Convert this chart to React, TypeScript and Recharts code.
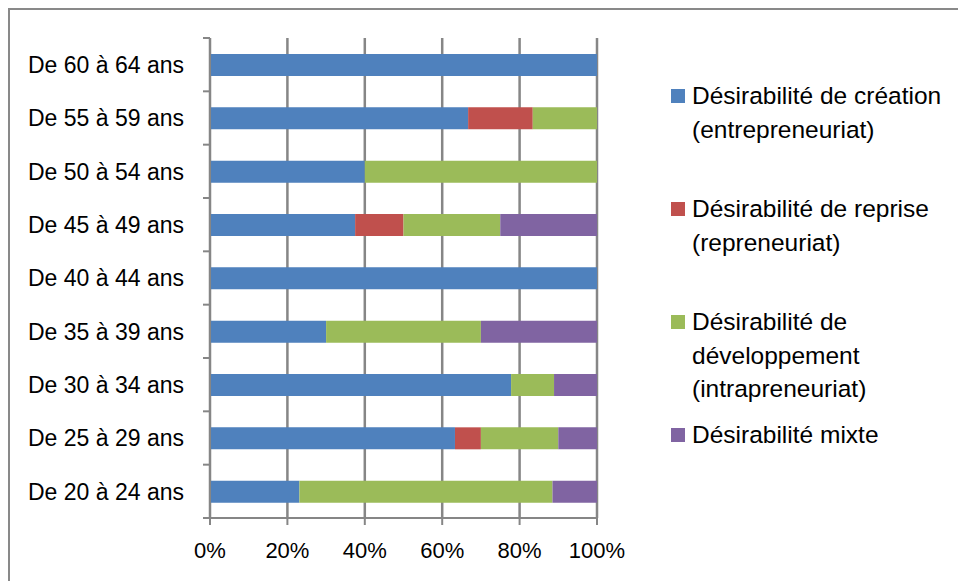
import React from 'react';
import { BarChart, Bar, XAxis, YAxis, CartesianGrid } from 'recharts';

// ---- Data (top to bottom as in the picture) ----
const categories = [
  'De 60 à 64 ans',
  'De 55 à 59 ans',
  'De 50 à 54 ans',
  'De 45 à 49 ans',
  'De 40 à 44 ans',
  'De 35 à 39 ans',
  'De 30 à 34 ans',
  'De 25 à 29 ans',
  'De 20 à 24 ans',
];
const creation = [100, 66.7, 40, 37.5, 100, 30, 77.8, 63.3, 23.1];
const reprise = [0, 16.7, 0, 12.5, 0, 0, 0, 6.7, 0];
const developpement = [0, 16.6, 60, 25, 0, 40, 11.1, 20, 65.4];
const mixte = [0, 0, 0, 25, 0, 30, 11.1, 10, 11.5];
const xTicks = [0, 20, 40, 60, 80, 100];

const seriesKeys = ['creation', 'reprise', 'developpement', 'mixte'];
const seriesColors = ['#4F81BD', '#C0504D', '#9BBB59', '#8064A2'];
const legendLines = [
  ['Désirabilité de création', '(entrepreneuriat)'],
  ['Désirabilité de reprise', '(repreneuriat)'],
  ['Désirabilité de', 'développement', '(intrapreneuriat)'],
  ['Désirabilité mixte'],
];

const data = categories.map((name, i) => ({
  name,
  creation: creation[i],
  reprise: reprise[i],
  developpement: developpement[i],
  mixte: mixte[i],
}));

// ---- Layout ----
const W = 958;
const H = 581;
const PLOT_LEFT = 210;
const PLOT_RIGHT = 597;
const PLOT_TOP = 38;
const PLOT_BOTTOM = 518;
const BAND = (PLOT_BOTTOM - PLOT_TOP) / categories.length;
const GRAY = '#868686';
const FONT = '"Liberation Sans", Arial, sans-serif';

const YTick = (props: any) => {
  const { y, payload, index } = props;
  const last = index === categories.length - 1;
  return (
    <g>
      <line x1={PLOT_LEFT - 7} x2={PLOT_LEFT} y1={y - BAND / 2} y2={y - BAND / 2} stroke={GRAY} strokeWidth={2} />
      {last && (
        <line x1={PLOT_LEFT - 7} x2={PLOT_LEFT} y1={y + BAND / 2} y2={y + BAND / 2} stroke={GRAY} strokeWidth={2} />
      )}
      <text
        x={PLOT_LEFT - 26}
        y={y}
        dy="0.36em"
        textAnchor="end"
        fontFamily={FONT}
        fontSize={23}
        fill="#000"
      >
        {payload.value}
      </text>
    </g>
  );
};

export default function App() {
  return (
    <div
      style={{
        position: 'fixed',
        left: 0,
        top: 0,
        width: W,
        height: H,
        overflow: 'hidden',
        background: '#fff',
      }}
    >
      <div
        style={{
          position: 'absolute',
          left: 8,
          top: 8,
          width: 2000,
          height: 2000,
          borderLeft: '2px solid #898989',
          borderTop: '2px solid #898989',
        }}
      />
      <div style={{ position: 'absolute', left: 0, top: 0 }}>
        <BarChart
          width={W}
          height={H}
          data={data}
          layout="vertical"
          margin={{ top: PLOT_TOP, right: W - PLOT_RIGHT, bottom: 0, left: 0 }}
        >
          <CartesianGrid horizontal={false} vertical={true} stroke={GRAY} strokeWidth={2.5} />
          <XAxis
            type="number"
            domain={[0, 100]}
            ticks={xTicks}
            interval={0}
            height={H - PLOT_BOTTOM}
            tickFormatter={(v: number) => `${v}%`}
            axisLine={{ stroke: GRAY, strokeWidth: 2 }}
            tickLine={{ stroke: GRAY, strokeWidth: 2 }}
            tickSize={7}
            tickMargin={17}
            tick={{ fontFamily: FONT, fontSize: 22, fill: '#000' }}
          />
          <YAxis
            type="category"
            dataKey="name"
            width={PLOT_LEFT}
            interval={0}
            axisLine={{ stroke: GRAY, strokeWidth: 2 }}
            tickLine={false}
            tick={<YTick />}
          />
          {seriesKeys.map((k, i) => (
            <Bar
              key={k}
              dataKey={k}
              stackId="a"
              fill={seriesColors[i]}
              barSize={22}
              isAnimationActive={false}
            />
          ))}
        </BarChart>
      </div>
      {legendLines.map((lines, i) => (
        <div
          key={i}
          style={{
            position: 'absolute',
            left: 671,
            top: 79 + 113 * i,
            fontFamily: FONT,
            fontSize: 24.5,
            lineHeight: '33.5px',
            color: '#000',
          }}
        >
          <div
            style={{
              position: 'absolute',
              left: 0,
              top: 10,
              width: 14,
              height: 14,
              background: seriesColors[i],
            }}
          />
          <div style={{ marginLeft: 21, whiteSpace: 'nowrap' }}>
            {lines.map((l, j) => (
              <div key={j}>{l}</div>
            ))}
          </div>
        </div>
      ))}
    </div>
  );
}
